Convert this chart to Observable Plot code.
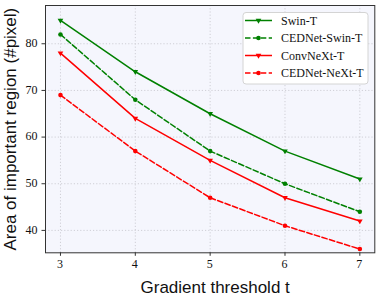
<!DOCTYPE html>
<html><head><meta charset="utf-8">
<script src="https://cdn.jsdelivr.net/npm/d3@7"></script>
<script src="https://cdn.jsdelivr.net/npm/@observablehq/plot@0.6"></script>
<style>
body{margin:0;background:#fff}
#chart svg{display:block}
</style>
</head><body><div id="chart"></div>
<script>
const thresholds = [3, 4, 5, 6, 7];
const swinT = [85, 74, 65, 57, 51];
const cednetSwinT = [82, 68, 57, 50, 44];
const convNeXtT = [78, 64, 55, 47, 42];
const cednetNeXtT = [69, 57, 47, 41, 36];
const seriesNames = ["Swin-T", "CEDNet-Swin-T", "ConvNeXt-T", "CEDNet-NeXt-T"];
const seriesColors = ["#008000", "#008000", "#ff0000", "#ff0000"];
const seriesDashed = [false, true, false, true];
const xTicks = [3, 4, 5, 6, 7];
const yTicks = [40, 50, 60, 70, 80];
const xLabel = "Gradient threshold t";
const yLabel = "Area of important region (#pixel)";

const seriesValues = [swinT, cednetSwinT, convNeXtT, cednetNeXtT];
const serif = "'Liberation Serif', 'Times New Roman', serif";
const sans = "'Liberation Sans', Arial, sans-serif";

const marks = [
  Plot.frame({fill: "#f5f6fd", stroke: null}),
  Plot.gridX(xTicks, {stroke: "#cfcfd6", strokeOpacity: 1, strokeDasharray: "1.2,2"}),
  Plot.gridY(yTicks, {stroke: "#cfcfd6", strokeOpacity: 1, strokeDasharray: "1.2,2"})
];
seriesNames.forEach((name, i) => {
  const rows = thresholds.map((t, j) => ({t, v: seriesValues[i][j]}));
  marks.push(Plot.line(rows, {x: "t", y: "v", stroke: seriesColors[i], strokeWidth: 1.5,
    strokeDasharray: seriesDashed[i] ? "5.5,2.4" : null}));
  marks.push(Plot.dot(rows, {x: "t", y: "v", fill: seriesColors[i], stroke: null,
    symbol: seriesDashed[i] ? "circle" : "triangle", r: seriesDashed[i] ? 2.3 : 2.1,
    rotate: seriesDashed[i] ? 0 : 180}));
});
marks.push(
  Plot.axisX({ticks: xTicks, tickFormat: () => "", tickSize: 3.5, label: null, stroke: "#333"}),
  Plot.axisY({ticks: yTicks, tickFormat: () => "", tickSize: 3.5, label: null, stroke: "#333"}),
  Plot.frame({stroke: "#333", strokeWidth: 1}),
  Plot.text([xLabel], {frameAnchor: "bottom", textAnchor: "middle", lineAnchor: "bottom", dy: 40.5, dx: 5, fontFamily: sans, fontSize: 17, fill: "#111"}),
  Plot.text([yLabel], {frameAnchor: "left", textAnchor: "middle", lineAnchor: "middle", rotate: -90, dx: -34.5, fontFamily: sans, fontSize: 17, fill: "#111"})
);

const chart = Plot.plot({
  width: 381, height: 297,
  marginLeft: 45, marginRight: 6.7, marginTop: 5, marginBottom: 44.7,
  x: {domain: [2.8, 7.2]},
  y: {domain: [35.2, 88.2]},
  style: {background: "#fff", overflow: "visible"},
  marks
});
document.getElementById("chart").append(chart);

const svg = d3.select(chart);
const xs = chart.scale("x");
const ys = chart.scale("y");
const frameBottom = 297 - 44.7;
const frameLeft = 45;

// serif tick labels placed with the chart's own scales
const tl = svg.append("g").attr("text-anchor", "middle");
xTicks.forEach(t => {
  tl.append("text").attr("x", xs.apply(t)).attr("y", frameBottom + 7.5).attr("dy", "0.71em")
    .attr("text-anchor", "middle").attr("font-family", serif).attr("font-size", 12).attr("fill", "#111").text(String(t));
});
yTicks.forEach(v => {
  tl.append("text").attr("x", frameLeft - 7.5).attr("y", ys.apply(v)).attr("dy", "0.32em")
    .attr("text-anchor", "end").attr("font-family", serif).attr("font-size", 12).attr("fill", "#111").text(String(v));
});

// Legend (drawn in the same SVG)
const lg = svg.append("g").attr("text-anchor", "start");
lg.append("rect").attr("x", 243).attr("y", 12.5).attr("width", 125).attr("height", 71.5)
  .attr("rx", 3).attr("fill", "#ffffff").attr("stroke", "#d4d4d4").attr("stroke-width", 1);
const rowY = [20.5, 38, 55.5, 73];
seriesNames.forEach((name, i) => {
  const y = rowY[i];
  lg.append("line").attr("x1", 245).attr("x2", 272).attr("y1", y).attr("y2", y)
    .attr("stroke", seriesColors[i]).attr("stroke-width", 1.5)
    .attr("stroke-dasharray", seriesDashed[i] ? "5.5,2.4" : null);
  const sym = d3.symbol(seriesDashed[i] ? d3.symbolCircle : d3.symbolTriangle, seriesDashed[i] ? 2.3*2.3*Math.PI : 2.1*2.1*Math.PI);
  lg.append("path").attr("d", sym()).attr("fill", seriesColors[i])
    .attr("transform", `translate(258.5,${y}) rotate(${seriesDashed[i] ? 0 : 180})`);
  lg.append("text").attr("x", 281).attr("y", y).attr("dy", "0.35em").attr("text-anchor", "start")
    .attr("font-family", serif).attr("font-size", 12).attr("fill", "#111").text(name);
});
</script>
</body></html>
